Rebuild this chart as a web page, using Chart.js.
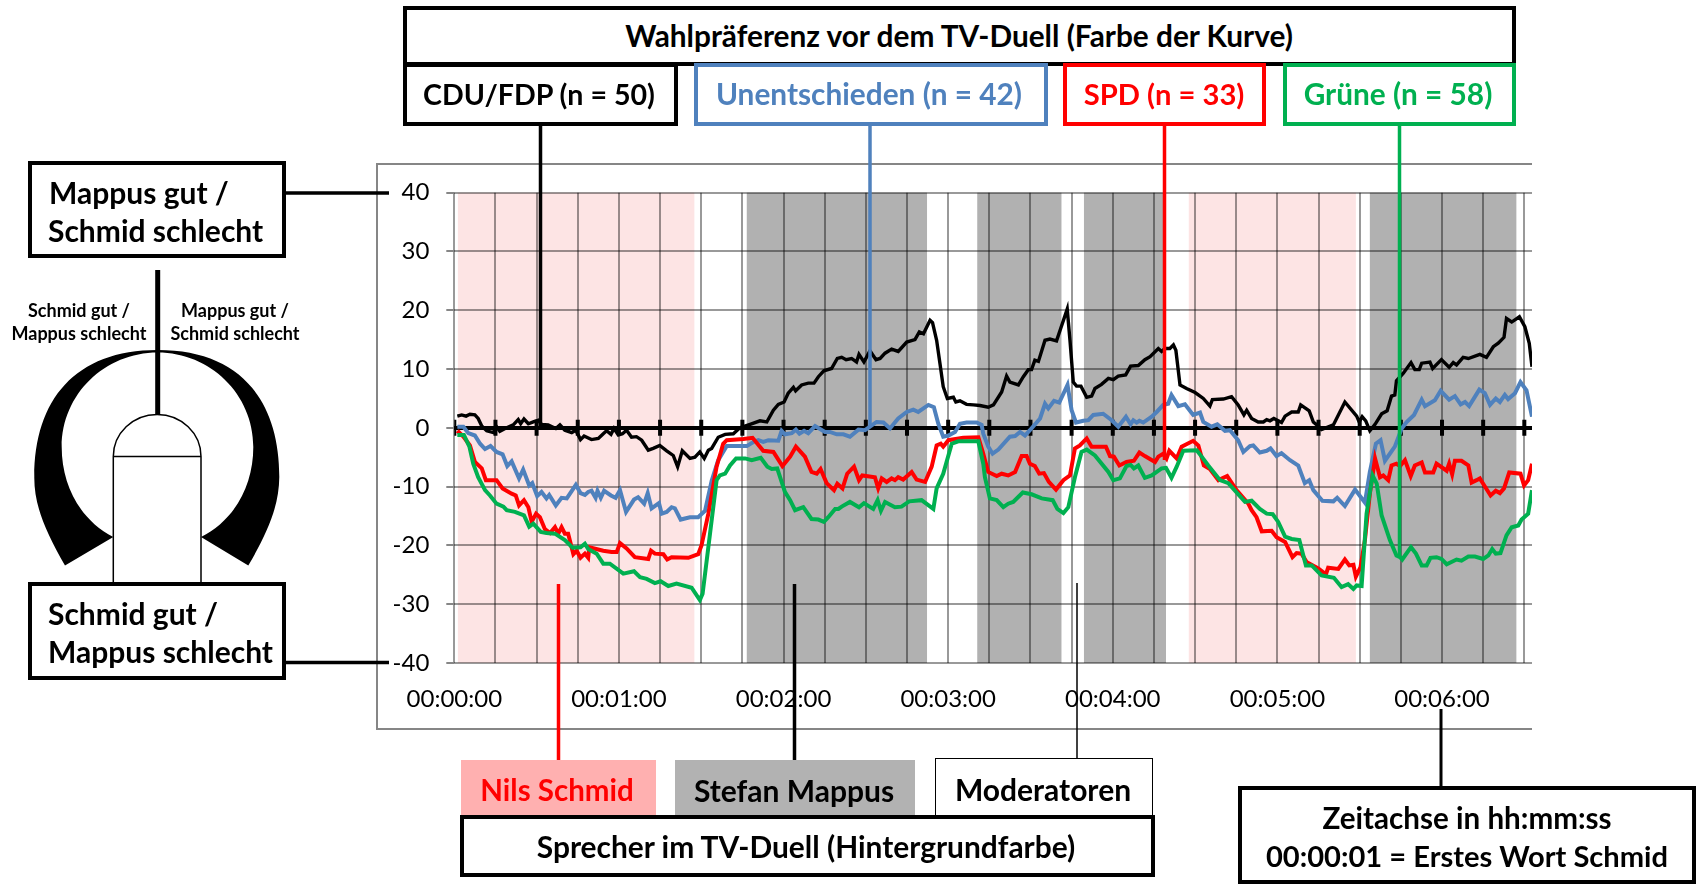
<!DOCTYPE html>
<html>
<head>
<meta charset="utf-8">
<title>TV-Duell</title>
<script src="https://cdn.jsdelivr.net/npm/chart.js@4"></script>
<style>
body { margin: 0; background: #fff; font-family: Lato, sans-serif; }
#stage { position: relative; width: 1701px; height: 885px; overflow: hidden; }
#stage canvas, #stage svg { position: absolute; left: 0; top: 0; }
.box { position: absolute; box-sizing: border-box; background: #fff; border: 4.5px solid #000; }
.lbl { position: absolute; font-weight: 700; white-space: nowrap; line-height: 1; transform: translate(-50%, -50%); }
.left { transform: translate(0, -50%); }
</style>
</head>
<body>
<div id="stage">
  <canvas id="duel" width="1701" height="885"></canvas>
  <svg width="1701" height="885">
    <!-- chart frame, open on the right like the source -->
    <path d="M1532 164H377V729H1532" fill="none" stroke="#868686" stroke-width="2"/>
    <!-- connectors -->
    <g fill="none" stroke-width="3.5">
      <path d="M540.5 125V427" stroke="#000"/>
      <path d="M870 125V427" stroke="#4f81bd"/>
      <path d="M1164.5 125V460" stroke="#f00"/>
      <path d="M1399.5 125V556" stroke="#00b050"/>
      <path d="M285 193H389M285 662.5H389" stroke="#000"/>
      <path d="M558.5 584V760" stroke="#f00"/>
      <path d="M794.5 584V760" stroke="#000"/>
      <path d="M1441 709V786" stroke="#000" stroke-width="3"/>
      <path d="M1077 583V758" stroke="#000" stroke-width="1.5"/>
      <path d="M157.7 270V415" stroke="#000" stroke-width="5"/>
    </g>
    <!-- head icon -->
    <path d="M65 565.6C45 530 34 505 34.3 477C34.3 400 75 350 157.7 350V352.5C105 352.5 61.7 394 61.7 447C61.7 485 80 520 113.3 537Z" fill="#000"/>
    <path d="M248.3 565.6C269 530 279 505 279.3 477C279.3 400 240 350 157.7 350V352.5C210 352.5 253.3 394 253.3 447C253.3 485 235 520 201 537Z" fill="#000"/>
    <path d="M113.3 582V456.5A43.8 42 0 0 1 201 456.5V582M113.3 456.5H201" fill="#fff" stroke="#000" stroke-width="1.5"/>
  </svg>

  <div class="box" style="left:403px;top:6px;width:1113px;height:60px"></div>
  <div class="box" style="left:403px;top:63px;width:275px;height:63px"></div>
  <div class="box" style="left:694px;top:63px;width:354px;height:63px;border-color:#4f81bd"></div>
  <div class="box" style="left:1063px;top:63px;width:203px;height:63px;border-color:#f00"></div>
  <div class="box" style="left:1283px;top:63px;width:233px;height:63px;border-color:#00b050"></div>
  <div class="lbl" style="left:959px;top:36px;font-size:29.8px">Wahlpräferenz vor dem TV-Duell (Farbe der Kurve)</div>
  <div class="lbl" style="left:539px;top:94px;font-size:28.6px">CDU/FDP (n = 50)</div>
  <div class="lbl" style="left:869px;top:94px;font-size:29.8px;color:#4f81bd">Unentschieden (n = 42)</div>
  <div class="lbl" style="left:1164px;top:94px;font-size:29.2px;color:#f00">SPD (n = 33)</div>
  <div class="lbl" style="left:1398px;top:94px;font-size:29.8px;color:#00b050">Grüne (n = 58)</div>

  <div class="box" style="left:28px;top:161px;width:258px;height:97px"></div>
  <div class="lbl left" style="left:49px;top:191.5px;font-size:30px">Mappus gut /</div>
  <div class="lbl left" style="left:48px;top:230px;font-size:30px">Schmid schlecht</div>
  <div class="box" style="left:28px;top:582px;width:258px;height:98px"></div>
  <div class="lbl left" style="left:48px;top:613px;font-size:30px">Schmid gut /</div>
  <div class="lbl left" style="left:48px;top:651px;font-size:30px">Mappus schlecht</div>
  <div class="lbl" style="left:79px;top:310px;font-size:18px">Schmid gut /</div>
  <div class="lbl" style="left:79px;top:333px;font-size:18px">Mappus schlecht</div>
  <div class="lbl" style="left:235px;top:310px;font-size:18px">Mappus gut /</div>
  <div class="lbl" style="left:235px;top:333px;font-size:18px">Schmid schlecht</div>

  <div class="box" style="left:461px;top:760px;width:195px;height:57px;background:#ffb0b0;border:0"></div>
  <div class="box" style="left:675px;top:760px;width:240px;height:56px;background:#b2b2b2;border:0"></div>
  <div class="box" style="left:935px;top:758px;width:218px;height:60px;border-width:1.5px"></div>
  <div class="box" style="left:460px;top:815px;width:695px;height:62px"></div>
  <div class="lbl" style="left:557px;top:790px;font-size:29.5px;color:#f00">Nils Schmid</div>
  <div class="lbl" style="left:794px;top:790px;font-size:30px">Stefan Mappus</div>
  <div class="lbl" style="left:1043px;top:789px;font-size:30px">Moderatoren</div>
  <div class="lbl" style="left:806px;top:847px;font-size:29.9px">Sprecher im TV-Duell (Hintergrundfarbe)</div>
  <div class="box" style="left:1238px;top:786px;width:458px;height:98px"></div>
  <div class="lbl" style="left:1467px;top:818px;font-size:29.6px">Zeitachse in hh:mm:ss</div>
  <div class="lbl" style="left:1467px;top:856px;font-size:29.1px">00:00:01 = Erstes Wort Schmid</div>
</div>

<script>
// seconds after the first word, one pair of arrays per group
var cduSec = [1.1,2.7,4.3,5.7,7.5,8.7,10,11.8,14.2,15.4,16.6,18.5,21.5,23.3,24.2,25.4,27,28.8,30.6,31.8,34.2,37,38.5,40.3,42.8,44.3,46,47.3,50,52.5,54.3,55.5,57.1,58.2,59.8,61.3,62.8,64.6,66.4,68.3,70.7,72.5,74.9,77.4,79.8,81.4,83.1,85.9,87.7,89.5,91.1,92.6,93.8,96.2,98.7,101.7,104.1,107.8,111.4,113.9,116.3,118.1,120.2,121.7,123.6,124.4,126.6,129,131.1,132.7,134.7,137.5,139.6,141.2,142.8,144.8,146.6,147.5,149.3,151.5,153.7,155.2,157,159.4,161.8,164.9,167.9,169.5,171,173.4,174.3,175.8,177,178.2,179.7,181.9,182.8,184.3,186.7,189.2,191.6,194.6,196.5,199.5,201.3,202.5,205.6,207.4,209.2,210.4,211.6,212.9,215.3,217.1,219.5,220.8,223.4,224.4,225.6,226.8,228.4,230.5,232.3,233.5,235.9,238.4,240.2,242,244.7,246.5,249.3,251.7,253.6,256.6,257.8,259,260.8,262.1,263,264.5,266.9,270,273,275.4,276.3,280.3,283.3,285.7,287.8,288.8,290.6,293,294.9,296.1,297.3,298.7,301.5,302.8,305.2,307.6,308.5,311.6,313.1,314.9,316.1,320.4,324.6,328.9,329.8,330.9,332.2,333.7,335.6,338,340,341.6,342.8,343.4,345.9,348.7,350.1,351.7,352.6,355.6,356.6,359.8,362.6,364.1,365.3,367.7,369.6,373.8,376.2,378.7,380.5,382.6,383.5,385.4,388.2,390.2,391.8,392.8];
var cduVal = [2,2.2,2,2.3,2.2,1.6,.3,-.5,-.8,.2,-.6,-.1,.5,1.4,.7,1.5,.7,1,1.3,.6,.5,-.1,.5,-.4,-.8,-.4,-2,-1.4,-2,-1.8,-1,-.5,-1.1,-.1,-1.2,-1,-.4,-1.6,-1.5,-2.1,-3.8,-3.5,-3,-3.9,-4.7,-6.6,-3.9,-5.2,-5,-4.1,-5.2,-3.8,-3.5,-1.6,-1.1,-1,0,.6,1.2,1,3,4,4.4,5.9,6.9,6.3,7.3,7.6,7.6,8.7,9.7,10.1,11.8,12,11.6,11.8,11.2,12.5,11.2,13.1,11.6,11.8,12.7,13.4,13,14.6,15,16.3,16,18.3,17.9,14.9,11,7,5,5.2,4.4,4.6,4,3.9,3.8,3.5,3.9,6.1,8.8,7.8,7.3,8.7,9.9,9.9,11.5,11.3,14.9,15.1,14.8,16.6,20.2,14.9,7.8,7.1,7.1,5.2,5.4,6.7,7.4,8.4,8.2,8.8,9,10.5,10.6,11.6,12.1,13.5,13,13.5,13.5,14.1,13.2,7.3,6.7,6,5,3.7,4.8,4.9,5.3,3.9,2.2,3,1.6,1,1,1.4,1.2,1.6,.9,2,2.7,2.7,3.9,2.9,1,.3,-.3,.5,4.4,2,1,1.9,1.2,-.5,.6,2.4,2.9,5.4,5.6,8,9.3,11.1,9.9,9.9,11,11.2,10.1,11.6,10.3,11.1,10.7,12,11.8,12.5,12,13.8,14.4,15.4,18.6,18,18.9,17.2,14.4,10.4];

var undecidedSec = [1.1,3.3,5.1,7.5,9.4,11.2,13.2,15.4,17.6,19.3,20.9,23.6,25.1,27.3,28.4,30.2,31.8,33.6,34.6,37,39.1,41,44.3,46,47.6,48.8,50,51.5,52.2,53.4,54.6,57.1,58.8,60.4,62.6,65.5,67,69.2,70.5,71.9,74.6,75.6,77.4,79.2,80.4,82.5,85.9,88.9,91.4,93.8,96.2,99.3,106.6,109,110.8,112.6,114.5,118.1,119.3,120.5,123,124.5,125.8,127.5,129,131.5,135.1,136.9,139.4,141.8,144.2,147.3,149.7,151.5,153.9,156.4,158.8,161.8,164.9,167.3,169.1,172.8,174.8,176.4,178.2,180.1,182.5,184.3,186.7,190.4,192.2,192.8,194.6,196.2,198.3,202.5,204.4,206.2,208,209.8,213.5,215.3,216.5,218.6,220.5,223.5,225,226.6,229.3,231.1,232.9,236.5,239.6,242,244.8,246.5,247.5,248.7,249.7,251.1,254.2,256,258.4,260.2,261.4,263.9,266.3,269.3,271.8,273,276,278.1,280.9,282.7,285.7,287.6,290,291.2,293.6,296.1,297.5,299.7,301.5,304.6,307.6,310,311.6,313.1,316.4,320.4,321.8,324.6,328.3,331.9,333.7,335.9,337.6,339.2,342.8,345.3,347.1,349.8,352.6,353.8,357.4,359.5,362.6,364.7,366.8,368.4,369.9,373.6,375.6,377.5,379.6,381.1,382.9,384.1,386.6,388.6,390.8,392.8];
var undecidedVal = [.2,.2,-.9,-1.3,-2.7,-3.6,-3.1,-4.1,-4.5,-6.5,-5.7,-8.6,-7.1,-9.8,-9.4,-11.6,-10.9,-12,-11.4,-13.2,-11.9,-12,-9.7,-11.1,-11.4,-10.9,-10.7,-11.9,-10.7,-11.9,-10.7,-11.5,-11.9,-10.6,-14.3,-12.2,-11.8,-12.9,-11.1,-13.7,-12.8,-14.6,-14.3,-13.5,-13.7,-15.6,-15.2,-15.2,-14.1,-9,-5.5,-3.1,-3.1,-2.4,-2.1,-2.4,-2.1,-2.2,-.5,-1.1,-.9,-.3,-1,-.5,-.9,.3,-.7,-.7,-1.1,-1.1,-1.5,-.3,-.4,.2,1,.9,-.1,1.6,2.7,3.1,2.7,3.9,3.5,.7,-1.5,-1.3,-.7,.7,.9,.9,.5,-1,-3.2,-4.4,-3.7,-1.5,-1.4,-.7,-1.3,-.4,1.6,4.1,3.3,4.6,4.3,7.3,3,.9,1.2,1.3,2.2,2.4,1.3,.2,1.9,.6,1.3,.9,1.2,.9,1.9,2.7,3.9,4.1,5.6,3.7,4,2.2,2.6,1,.2,.6,-.5,-.4,-2.1,-4.1,-3.1,-3,-4.2,-3.9,-3.5,-4.8,-4.3,-5.5,-6.4,-9.4,-8.9,-10.6,-12.4,-12.5,-11.9,-13.3,-10.5,-12.7,-7.5,-2.7,-2.1,-5.6,-3.2,-.1,1,2.2,4.8,3.7,4.7,6.3,4.8,5.4,4,4.4,3.7,6.5,5.9,3.9,5,4.4,5.6,4.9,5.9,7.8,6.4,1.9];

var spdSec = [1.1,3.3,5.7,7.5,10,11.5,15.4,17.6,20.9,22.4,23.6,25.4,27,28.2,29.8,31.2,33,34.9,36.7,37.9,39.1,40.3,41.5,43.4,44.6,46,47.6,48.8,49.2,54.3,57.3,59.2,60.4,62.8,65.8,70.7,71.7,73.1,76.2,77.6,79.2,85.3,88.9,90.1,92.6,95.6,98,99.3,105.4,108.7,112.6,116.3,119.6,122.4,124.5,127.8,130.2,132.1,133.5,135.7,138.4,139.6,141.5,143.2,145.7,147.5,148.7,153.3,154.5,155.8,157.6,159.4,160.6,161.8,163.6,166.7,168.5,171.6,174,175.8,177.3,178.2,180.1,185.5,191,192.8,194.6,197.7,199.5,201.9,204.4,206.8,208.6,209.8,211.6,213.2,214.9,216.7,219.3,222,224.4,226.2,228,230.5,232.3,237.5,239,240.4,242.4,245,247.7,249.7,251.7,255.4,256.6,258.4,259.6,260.6,263.3,265.1,269.3,271.2,273.2,275.4,278.5,281.7,285.1,289.4,290.6,292.4,294.3,297.9,299.7,302.8,305.5,307,308.8,310.6,314.9,317.7,318.5,322.2,324.6,326.2,327.7,328.6,330.3,331.9,333.7,335.6,337.4,338.6,340.4,341.6,343.4,344.7,346.5,348.6,350.1,352.6,353.8,356.8,358,361.7,362.6,363.7,364.7,367.1,369.6,370.8,372.6,373.8,375,377.7,379.6,381.1,382.6,384.5,388.6,389.9,391.4,392.8];
var spdVal = [-.5,-1.5,-3,-5.8,-6.9,-8.9,-8.9,-10.3,-11.2,-11.5,-13.2,-12.3,-13.5,-16,-14.6,-15.2,-17.2,-17.9,-16.9,-18,-16.9,-18,-18,-21.5,-20.9,-22.1,-21.4,-22.1,-20.3,-20.9,-21.1,-21.1,-19.6,-20.5,-22,-22.3,-20.9,-21.4,-21.5,-22.4,-22,-22.1,-21.5,-20,-14.6,-6.6,-2.7,-2.1,-1.9,-1.7,-3.9,-4.1,-6.5,-4.9,-3.2,-4.9,-7.5,-7.8,-7,-9.4,-10.6,-9.5,-10.3,-7.8,-6.6,-8.9,-8.1,-8.4,-10.3,-8.6,-9.2,-8.6,-8.9,-8.4,-8.8,-7.5,-8.8,-9.2,-6.6,-3,-2.7,-3.2,-2.1,-1.7,-1.6,-4.4,-7.5,-8.2,-7.8,-8.1,-7.5,-4.8,-4.8,-6.1,-6.5,-7.8,-7.7,-9.2,-10.5,-8.9,-8.1,-3.5,-3,-1.8,-3.2,-3.2,-4.8,-4.9,-6.4,-5.8,-5.6,-4.2,-4.8,-5.8,-4.9,-4.4,-5.2,-3.9,-5.2,-3.2,-2.2,-3,-6.4,-7,-8.9,-8.2,-10.6,-12.9,-14,-15.2,-17.6,-17.5,-18.6,-19.4,-22,-21.3,-21.4,-22.8,-23.9,-24.9,-23.8,-24,-22.4,-23.4,-23.3,-25.3,-23.7,-19.1,-11.2,-5.2,-8.4,-8.1,-8.9,-6.4,-6.1,-6.5,-5.5,-8.2,-6.4,-5.9,-7.6,-7.6,-6.1,-7.3,-6.1,-7.9,-5.6,-5.6,-6.4,-9.3,-8.9,-8.6,-9.5,-11.5,-10.7,-11.1,-10.3,-7.6,-7.8,-9.8,-8.9,-6.1];

var greenSec = [1.1,3.5,5.5,6.9,8.7,11.2,13,15.4,17.9,19.1,22.1,25.4,27.3,28.8,31.5,33.6,36.7,40.3,43.1,46,47.6,48.8,51.9,54.3,56.7,61.6,65.5,67.7,70.1,73.1,75.2,78,81,86.5,89.5,90.5,93.2,95.6,96.8,98.7,100.5,102.7,106,108.4,111.7,114.1,115.7,117.7,120.5,122.4,124.2,127.2,130.2,132.7,134.7,136.3,138.8,140,141.2,144.2,147.5,149.3,152.7,154.3,155.5,157,160.6,163,165.8,170.3,174.6,175.8,178.2,181.3,183.7,191,192.8,193.4,195.2,197.7,200.1,201.9,203.7,207.2,210.4,214.1,218.1,219.8,222,223.8,226.2,228.6,230.5,233.5,238.4,240.2,242.6,245,246.5,247.7,249.3,251.7,254.2,257.8,259.4,261.4,263.3,265.7,270.6,272.4,274.8,279.1,282.1,288.2,290.6,293.6,296.1,298.3,300.3,302.8,305.2,308,310.4,312.5,316.1,320.6,323.4,325.8,327.7,328.9,330.7,332.5,334.7,336.2,338,341,343.4,344.7,345.5,348.7,350.5,352.6,354.4,355.8,358,359.8,361.7,365.3,367.1,369.6,372,375,376.9,378.3,379.6,381.3,383.5,385.4,387.8,389,391.4,392.8];
var greenVal = [-1.2,-1.2,-3.2,-6.1,-8.4,-10.6,-11.5,-12.9,-13.4,-14,-14.3,-14.9,-16.8,-16.3,-17.7,-17.9,-18,-19.1,-20.4,-20.3,-19.7,-20.6,-21.4,-23.1,-23.1,-24.8,-24.4,-25.4,-25.7,-26.4,-26.1,-26.9,-26.5,-27.2,-29.3,-28.2,-18,-8.9,-8.1,-7.8,-6.4,-5.2,-5.2,-5.5,-5.1,-6.6,-7,-6.9,-10.9,-12.3,-14,-13.5,-15.5,-15.6,-16,-15.2,-13.8,-13.8,-13.4,-12.6,-13.5,-12.8,-13.8,-12.3,-14.1,-12.6,-13.5,-13.4,-12.5,-12.3,-13.8,-10.3,-7.8,-2.7,-2.3,-2.3,-6.1,-8.4,-12,-12.3,-13.5,-12.9,-12.6,-11,-11.3,-12,-12.3,-13.8,-14.5,-13.5,-8.4,-4.1,-3.7,-4.7,-7.5,-8.9,-8.6,-6.5,-6.3,-6.9,-6.4,-8.5,-8.1,-6.9,-6.8,-8.5,-6.6,-3.9,-3.8,-4.9,-6.4,-8.9,-9.4,-12.6,-12.4,-13.8,-14.6,-14.7,-16,-18.5,-18.9,-19.1,-23.4,-23.4,-25.1,-25.5,-27.1,-26.6,-27.4,-26.8,-26.9,-14.6,-8.1,-9.5,-14.9,-19.1,-21.7,-22,-22.4,-20.3,-21.4,-23.4,-23.4,-22.1,-22,-22.3,-23.2,-22.4,-22.6,-21.9,-21.9,-22.3,-21.7,-20.6,-21.4,-21.3,-18.3,-16.9,-16.6,-15.6,-14.6,-10.6];

// who is talking, background of the plot
var speakerFrom = [1.3,106.6,190.6,229.5,267.7,333.7];
var speakerTo = [87.5,172.3,221.3,259.4,328.6,387.1];
var speakerColor = ['#fde4e4','#b1b1b1','#b1b1b1','#b1b1b1','#fde4e4','#b1b1b1'];

var yTicks = [-40,-30,-20,-10,0,10,20,30,40];
var tickSec = [0,15,30,45,60,75,90,105,120,135,150,165,180,195,210,225,240,255,270,285,300,315,330,345,360,375,390];
var tickLabels = {0:'00:00:00',60:'00:01:00',120:'00:02:00',180:'00:03:00',240:'00:04:00',300:'00:05:00',360:'00:06:00'};
var xEnd = 392.8;

function pairs(xs, ys) {
    return xs.map(function (x, i) { return { x: x, y: ys[i] }; });
}

function curve(label, xs, ys, color, width, order) {
    return {
        label: label, data: pairs(xs, ys), borderColor: color, borderWidth: width,
        pointRadius: 0, tension: 0, order: order
    };
}

var speakerBands = {
    id: 'speakerBands',
    beforeDraw: function (chart) {
        var ctx = chart.ctx, x = chart.scales.x, area = chart.chartArea;
        ctx.save();
        speakerFrom.forEach(function (from, i) {
            var a = x.getPixelForValue(from), b = x.getPixelForValue(speakerTo[i]);
            ctx.fillStyle = speakerColor[i];
            ctx.fillRect(a, area.top, b - a, area.bottom - area.top);
        });
        ctx.restore();
    }
};

var gridGrey = 'rgba(0,0,0,0.4)';

new Chart(document.getElementById('duel').getContext('2d'), {
    type: 'line',
    data: {
        datasets: [
            curve('Grüne (n = 58)', greenSec, greenVal, '#00b050', 4, 1),
            curve('SPD (n = 33)', spdSec, spdVal, '#ff0000', 4, 2),
            curve('Unentschieden (n = 42)', undecidedSec, undecidedVal, '#4f81bd', 4, 3),
            curve('CDU/FDP (n = 50)', cduSec, cduVal, '#000000', 3.4, 4),
            {
                label: 'ticks', data: tickSec.map(function (s) { return { x: s, y: 0 }; }),
                showLine: false, pointStyle: 'line', rotation: 90, pointRadius: 8,
                pointBorderColor: '#000', pointBorderWidth: 4, order: 5
            }
        ]
    },
    plugins: [speakerBands],
    options: {
        responsive: false,
        animation: false,
        layout: { padding: { left: 354.3, right: 169, top: 192.7, bottom: 162 } },
        plugins: { legend: { display: false }, tooltip: { enabled: false } },
        scales: {
            x: {
                type: 'linear', min: 0, max: xEnd,
                afterFit: function (s) { s.height = 60; },
                border: { display: false },
                grid: { color: gridGrey, lineWidth: 2, drawTicks: false },
                ticks: {
                    stepSize: 15, includeBounds: false, autoSkip: false, maxRotation: 0,
                    padding: 22, color: '#000', font: { family: 'Lato', size: 24 },
                    callback: function (v) { return tickLabels[v] || ''; }
                }
            },
            y: {
                min: yTicks[0], max: yTicks[yTicks.length - 1],
                afterFit: function (s) { s.width = 100; },
                border: { display: false },
                grid: {
                    tickLength: 8, tickWidth: 2, tickColor: '#868686',
                    color: function (c) { return c.tick.value === 0 ? '#000' : gridGrey; },
                    lineWidth: function (c) { return c.tick.value === 0 ? 4 : 2; }
                },
                ticks: {
                    stepSize: 10, padding: 17, color: '#000', font: { family: 'Lato', size: 24 }
                }
            }
        }
    }
});
</script>
</body>
</html>
